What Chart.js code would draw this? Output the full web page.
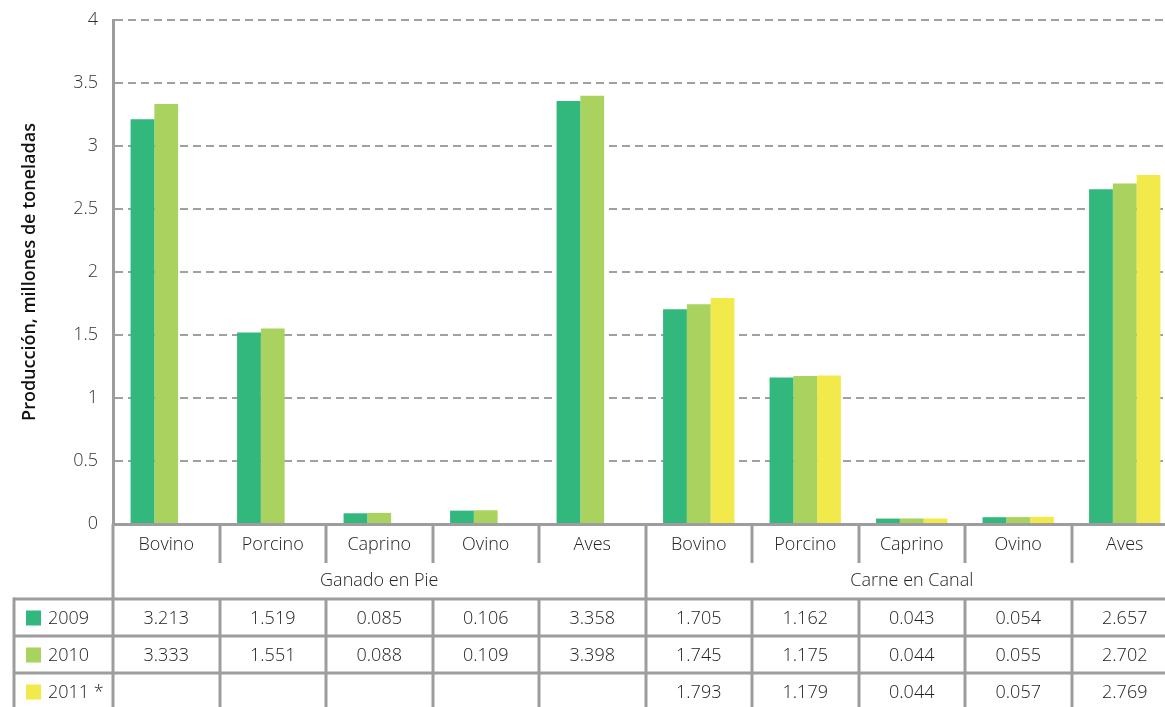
<!DOCTYPE html>
<html>
<head>
<meta charset="utf-8">
<script src="https://cdn.jsdelivr.net/npm/chart.js@4.4.1/dist/chart.umd.min.js"></script>
<style>
    html, body { margin: 0; padding: 0; background: #fff; overflow: hidden; }
    #wrap { width: 1180px; height: 707px; }
</style>
</head>
<body>
<div id="wrap"><canvas id="chart" width="1180" height="707"></canvas></div>
<script>
// categories (two groups of five)
var categories = ['Bovino', 'Porcino', 'Caprino', 'Ovino', 'Aves', 'Bovino', 'Porcino', 'Caprino', 'Ovino', 'Aves'];
var groups = ['Ganado en Pie', 'Carne en Canal'];
var groupSize = 5;
var years = ['2009', '2010', '2011 *'];

// millones de toneladas
var values2009 = [3.213, 1.519, 0.085, 0.106, 3.358, 1.705, 1.162, 0.043, 0.054, 2.657];
var values2010 = [3.333, 1.551, 0.088, 0.109, 3.398, 1.745, 1.175, 0.044, 0.055, 2.702];
var values2011 = [null, null, null, null, null, 1.793, 1.179, 0.044, 0.057, 2.769];

var yTicks = [0, 0.5, 1, 1.5, 2, 2.5, 3, 3.5, 4];

var colors = ['rgb(50, 183, 125)', 'rgb(170, 210, 94)', 'rgb(242, 234, 74)'];
var lineColor = 'rgb(157, 157, 160)';
var fontFamily = "'Open Sans', 'DejaVu Sans', sans-serif";
var series = [values2009, values2010, values2011];

// draws category labels, group labels and the data table under the plot
var tablePlugin = {
    id: 'dataTable',
    afterDraw: function (chart) {
        var ctx = chart.ctx;
        var area = chart.chartArea;
        var xScale = chart.scales.x;
        var colW = (area.right - area.left) / categories.length;
        var bottom = chart.height;
        var catRowEnd = area.bottom + 39;
        var tableTop = area.bottom + 75;
        var rowH = 37;
        var tableLeft = 14;

        ctx.save();
        ctx.strokeStyle = lineColor;
        ctx.lineWidth = 3;

        function line(x1, y1, x2, y2) {
            ctx.beginPath();
            ctx.moveTo(x1, y1);
            ctx.lineTo(x2, y2);
            ctx.stroke();
        }

        // axis continuing down through the table
        line(area.left, area.bottom, area.left, bottom);
        // column dividers
        for (let i = 1; i < categories.length; i++) {
            let bx = Math.round(area.left + i * colW);
            if (i % groupSize === 0) {
                line(bx, area.bottom, bx, bottom);
            } else {
                line(bx, area.bottom, bx, catRowEnd);
                line(bx, tableTop, bx, bottom);
            }
        }
        // table rows
        for (let r = 0; r < years.length; r++) {
            let y = tableTop + r * rowH;
            line(tableLeft, y, chart.width, y);
        }
        line(tableLeft, tableTop - 1.5, tableLeft, bottom);

        // texts
        ctx.fillStyle = '#222';
        ctx.textAlign = 'center';
        ctx.textBaseline = 'middle';
        ctx.font = '300 18px ' + fontFamily;
        categories.forEach(function (c, i) {
            ctx.fillText(c, xScale.getPixelForValue(i), area.bottom + 21);
        });
        groups.forEach(function (g, gi) {
            let cx = area.left + (gi * groupSize + groupSize / 2) * colW;
            ctx.fillText(g, cx, area.bottom + 57);
        });

        series.forEach(function (vals, r) {
            let cy = tableTop + r * rowH + rowH / 2 + 1;
            vals.forEach(function (v, i) {
                if (v === null) return;
                ctx.fillText(v.toFixed(3), xScale.getPixelForValue(i), cy);
            });
            ctx.fillStyle = colors[r];
            ctx.fillRect(26, cy - 8, 15, 15);
            ctx.fillStyle = '#222';
            ctx.textAlign = 'left';
            ctx.fillText(years[r], 48, cy);
            ctx.textAlign = 'center';
        });
        ctx.restore();
    }
};

var chart = new Chart(document.getElementById('chart'), {
    type: 'bar',
    data: {
        labels: categories,
        datasets: series.map(function (vals, i) {
            return {
                label: years[i],
                data: vals,
                backgroundColor: colors[i],
                borderWidth: 0,
                categoryPercentage: 0.67,
                barPercentage: 1
            };
        })
    },
    options: {
        responsive: false,
        animation: false,
        layout: { padding: { top: 20, right: 2, left: 0, bottom: 0 } },
        plugins: {
            legend: { display: false },
            tooltip: { enabled: false }
        },
        scales: {
            x: {
                grid: { display: false },
                border: { color: lineColor, width: 3 },
                ticks: { display: false },
                afterFit: function (s) { s.height = 183; }
            },
            y: {
                min: 0,
                max: 4,
                afterBuildTicks: function (s) {
                    s.ticks = yTicks.map(function (v) { return { value: v }; });
                },
                grid: { color: 'rgb(160, 160, 162)', lineWidth: 2, drawTicks: false },
                border: { color: lineColor, width: 3, dash: [8, 5] },
                ticks: {
                    padding: 15,
                    color: '#333',
                    font: { family: fontFamily, size: 18, weight: '300' },
                    callback: function (v) { return String(v); }
                },
                title: {
                    display: true,
                    text: 'Producción, millones de toneladas',
                    color: '#111',
                    font: { family: fontFamily, size: 18, weight: '600' },
                    padding: { top: 19, bottom: 0 }
                },
                afterFit: function (s) {
                    s.width = 113;
                    s.paddingTop = 0;
                    s.paddingBottom = 0;
                }
            }
        }
    },
    plugins: [tablePlugin]
});
</script>
</body>
</html>
